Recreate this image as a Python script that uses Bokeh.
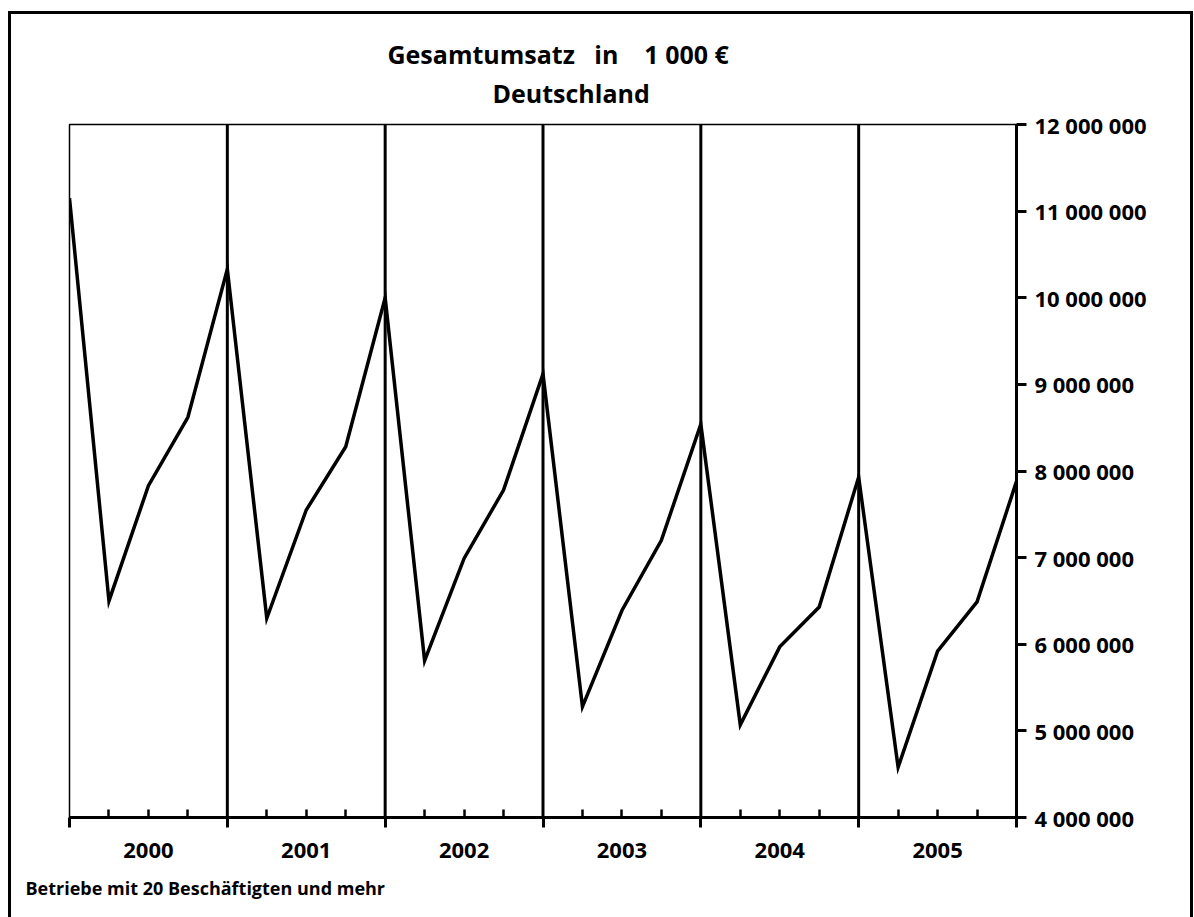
from bokeh.plotting import figure
from bokeh.models import FixedTicker, LinearAxis, Title, Span, Range1d
from bokeh.embed import file_html
from bokeh.resources import INLINE

# ---- data -------------------------------------------------------------
# quarterly positions: 0 = Q4 1999, 1..4 = Q1..Q4 2000, ... 24 = Q4 2005
period = list(range(25))
umsatz = [11150000, 6500000, 7830000, 8620000, 10330000,
          6300000, 7550000, 8280000, 10000000,
          5810000, 6990000, 7780000, 9120000,
          5280000, 6390000, 7200000, 8540000,
          5070000, 5970000, 6430000, 7930000,
          4580000, 5920000, 6490000, 7880000]
years = ["2000", "2001", "2002", "2003", "2004", "2005"]
y_ticks = [4000000, 5000000, 6000000, 7000000, 8000000,
           9000000, 10000000, 11000000, 12000000]
NB = "\u00a0"
title_line1 = "Gesamtumsatz" + NB * 3 + "in" + NB * 4 + "1" + NB + "000" + NB + "€"
title_line2 = "Deutschland"
footer = "Betriebe mit 20 Beschäftigten und mehr"

FONT = "Open Sans"

year_bounds = [4 * i for i in range(len(years) + 1)]
quarter_ticks = [q for q in period if q % 4 != 0]
year_centers = [4 * i + 2 for i in range(len(years))]

W, H = 1194, 917
p = figure(width=W, height=H, output_backend="svg", toolbar_location=None,
           x_range=Range1d(0, 24), y_range=Range1d(4000000, 12000000),
           y_axis_location="right", x_axis_location=None,
           min_border_left=69, min_border_right=178,
           min_border_top=124, min_border_bottom=100)
p.grid.visible = False
p.background_fill_color = "white"
p.border_fill_color = None
p.outline_line_color = "black"
p.outline_line_width = 1.5
p.title.visible = False

# outer frame of the whole chart (left, top and right edge)
p.styles = {
    "background-color": "white",
    "background-image": "linear-gradient(#000,#000), linear-gradient(#000,#000), linear-gradient(#000,#000)",
    "background-size": "3px 920px, 1185px 3px, 3px 920px",
    "background-position": "8px 11px, 8px 11px, 1190px 11px",
    "background-repeat": "no-repeat",
}

# year separators
for b in year_bounds[1:-1]:
    p.add_layout(Span(location=b, dimension="height", line_color="black", line_width=3))

p.line(period, umsatz, line_color="black", line_width=3.5, line_join="miter")

# right y axis
ya = p.yaxis[0]
ya.ticker = FixedTicker(ticks=y_ticks)
ya.major_label_overrides = {t: f"{t:,}".replace(",", " ") for t in y_ticks}
ya.axis_line_width = 3
ya.axis_line_color = "black"
ya.major_tick_line_width = 3
ya.major_tick_in = 0
ya.major_tick_out = 10
ya.minor_tick_line_color = None
ya.major_label_standoff = 8
ya.major_label_text_font = FONT
ya.major_label_text_font_size = "22px"
ya.major_label_text_font_style = "bold"
ya.major_label_text_color = "black"

# bottom axis: ticks only
xa = LinearAxis(ticker=FixedTicker(ticks=year_bounds, minor_ticks=quarter_ticks))
xa.major_label_overrides = {t: "" for t in year_bounds}
xa.major_label_text_font_size = "1px"
xa.axis_line_width = 3
xa.axis_line_color = "black"
xa.major_tick_line_width = 3
xa.major_tick_in = 0
xa.major_tick_out = 10
xa.minor_tick_line_width = 2.5
xa.minor_tick_in = 8
xa.minor_tick_out = 0
xa.major_label_standoff = 0
p.add_layout(xa, "below")

# bottom axis: year labels
xl = LinearAxis(ticker=FixedTicker(ticks=year_centers, minor_ticks=[]))
xl.major_label_overrides = {c: y for c, y in zip(year_centers, years)}
xl.axis_line_color = None
xl.major_tick_line_color = None
xl.minor_tick_line_color = None
xl.major_tick_in = 0
xl.major_tick_out = 0
xl.major_label_standoff = 15
xl.major_label_text_font = FONT
xl.major_label_text_font_size = "22px"
xl.major_label_text_font_style = "bold"
xl.major_label_text_color = "black"
p.add_layout(xl, "below")

# footer note
p.add_layout(Title(text=footer, align="left", offset=-44, standoff=26,
                   text_font=FONT, text_font_size="18px", text_font_style="bold",
                   text_color="black"), "below")

# titles (inner line added first)
p.add_layout(Title(text=title_line2, align="left", offset=423, standoff=30,
                   text_font=FONT, text_font_size="25px", text_font_style="bold",
                   text_color="black"), "above")
p.add_layout(Title(text=title_line1, align="left", offset=318, standoff=-25,
                   text_font=FONT, text_font_size="25px", text_font_style="bold",
                   text_color="black"), "above")

open("out.html", "w").write(file_html(p, INLINE))
